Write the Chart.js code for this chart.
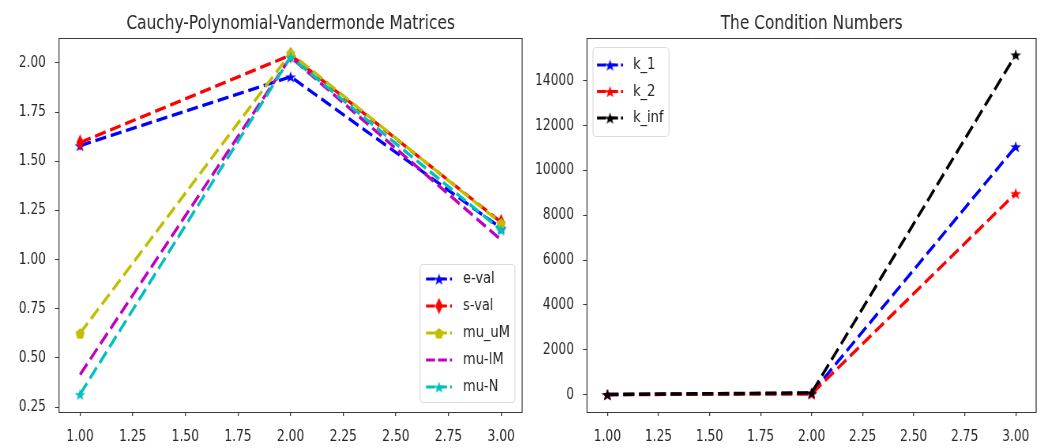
<!DOCTYPE html>
<html lang="en">
<head>
  <meta charset="UTF-8">
  <title>Cauchy-Polynomial-Vandermonde Matrices</title>
  <script src="https://cdn.jsdelivr.net/npm/chart.js"></script>
  <style>
    body { margin: 0; background: #fff; overflow: hidden; }
    /* the figure is squeezed sideways, so draw wide and scale it in */
    .box { position: absolute; top: 0; height: 448px; transform: scaleX(0.79); transform-origin: 0 0; }
    #left { left: 0; width: 671px; }
    #right { left: 525px; width: 657px; }
  </style>
</head>
<body>
<div class="box" id="left"><canvas id="matChart"></canvas></div>
<div class="box" id="right"><canvas id="condChart"></canvas></div>

<script>
  const SX = 0.79;

  // data
  const xValues = [1, 2, 3];
  const xTicks = [1, 1.25, 1.5, 1.75, 2, 2.25, 2.5, 2.75, 3];

  const eVal = [1.58, 1.93, 1.16];
  const sVal = [1.595, 2.04, 1.19];
  const muUM = [0.625, 2.05, 1.185];
  const muLM = [0.415, 2.03, 1.10];
  const muN = [0.315, 2.03, 1.15];
  const leftTicks = [0.25, 0.5, 0.75, 1.0, 1.25, 1.5, 1.75, 2.0];

  const k1 = [5, 60, 11065];
  const k2 = [3, 30, 8980];
  const kInf = [8, 80, 15160];
  const rightTicks = [0, 2000, 4000, 6000, 8000, 10000, 12000, 14000];

  const FONT = "'DejaVu Sans', sans-serif";
  const INK = '#262626';
  const px = v => v / SX;   // page width -> canvas width

  function markerImg(shape, color, w, h) {
    const c = document.createElement('canvas');
    c.width = Math.ceil(w); c.height = Math.ceil(h);
    const g = c.getContext('2d');
    g.fillStyle = color;
    const cx = c.width / 2, cy = c.height / 2;
    const rx = w / 2 - 0.3, ry = h / 2 - 0.3;
    g.beginPath();
    if (shape === 'star') {
      for (let i = 0; i < 10; i++) {
        const k = i % 2 ? 0.4 : 1;
        const a = -Math.PI / 2 + i * Math.PI / 5;
        g.lineTo(cx + k * rx * Math.cos(a), cy + 0.8 + k * ry * Math.sin(a));
      }
    } else if (shape === 'thin_diamond') {
      g.moveTo(cx, cy - ry); g.lineTo(cx + rx, cy); g.lineTo(cx, cy + ry); g.lineTo(cx - rx, cy);
    } else if (shape === 'pentagon') {
      for (let i = 0; i < 5; i++) {
        const a = -Math.PI / 2 + i * 2 * Math.PI / 5;
        g.lineTo(cx + rx * Math.cos(a), cy + 0.8 + ry * Math.sin(a));
      }
    }
    g.closePath();
    g.fill();
    return c;
  }

  function series(label, values, color, img, idx) {
    return {
      label: label,
      data: xValues.map((x, i) => ({ x: x, y: values[i] })),
      showLine: true,
      borderColor: color,
      backgroundColor: color,
      borderWidth: 3.4,
      borderDash: [14, 6],
      pointStyle: img || false,
      pointRadius: img ? 6 : 0,
      order: -idx
    };
  }

  // full box around the plot area
  const frame = {
    id: 'frame',
    afterDatasetsDraw(chart) {
      const a = chart.chartArea, g = chart.ctx;
      g.save();
      g.strokeStyle = '#3a3a3a';
      g.lineWidth = 1;
      g.beginPath();
      g.moveTo(a.left, Math.round(a.top) + 0.5); g.lineTo(a.right, Math.round(a.top) + 0.5);
      g.moveTo(a.left, Math.round(a.bottom) + 0.5); g.lineTo(a.right, Math.round(a.bottom) + 0.5);
      g.stroke();
      g.lineWidth = 1 / SX;
      g.beginPath();
      g.moveTo(a.left, a.top); g.lineTo(a.left, a.bottom + 1);
      g.moveTo(a.right, a.top); g.lineTo(a.right, a.bottom + 1);
      g.stroke();
      g.restore();
    }
  };

  // matplotlib-style legend drawn inside the axes
  const boxLegend = {
    id: 'boxLegend',
    afterDraw(chart, args, o) {
      const g = chart.ctx;
      g.save();
      g.beginPath();
      g.roundRect(o.x, o.y + 0.5, o.w, o.h, 4);
      g.fillStyle = 'rgba(255,255,255,0.8)';
      g.fill();
      g.strokeStyle = '#dcdcdc';
      g.lineWidth = 1.2;
      g.stroke();
      chart.data.datasets.forEach((d, i) => {
        const y = o.y0 + i * o.rowH;
        g.strokeStyle = d.borderColor;
        g.lineWidth = 3.2;
        g.setLineDash([px(9), px(3)]);
        g.beginPath();
        g.moveTo(o.lineX, y);
        g.lineTo(o.lineX + o.lineW, y);
        g.stroke();
        g.setLineDash([]);
        if (d.pointStyle) {
          const im = d.pointStyle;
          g.drawImage(im, o.lineX + o.lineW / 2 - im.width / 2, y - im.height / 2);
        }
        g.fillStyle = INK;
        g.font = '16.5px ' + FONT;
        g.textBaseline = 'middle';
        g.fillText(d.label, o.textX, y);
      });
      g.restore();
    }
  };

  function options(title, yMin, yMax, yTickVals, yFmt, yWidth, legend) {
    return {
      responsive: true,
      maintainAspectRatio: false,
      animation: false,
      layout: { padding: { left: 0, right: 10, top: 0, bottom: 0 } },
      plugins: {
        legend: { display: false },
        tooltip: { enabled: false },
        title: {
          display: true,
          text: title,
          fullSize: false,
          color: INK,
          font: { family: FONT, size: 19.5, weight: 'normal' },
          padding: { top: 12, bottom: 2.6 }
        },
        boxLegend: legend
      },
      scales: {
        x: {
          type: 'linear',
          min: 0.9,
          max: 3.1,
          afterBuildTicks: s => { s.ticks = xTicks.map(v => ({ value: v })); },
          afterFit: s => { s.height = 36; },
          grid: { drawOnChartArea: false, tickLength: 4, color: '#3a3a3a', lineWidth: 1 / SX },
          border: { display: false },
          ticks: {
            padding: 12,
            color: INK,
            font: { family: FONT, size: 15.5 },
            maxRotation: 0,
            callback: v => Number(v).toFixed(2)
          }
        },
        y: {
          type: 'linear',
          min: yMin,
          max: yMax,
          afterBuildTicks: s => { s.ticks = yTickVals.map(v => ({ value: v })); },
          afterFit: s => { s.width = yWidth; },
          grid: { drawOnChartArea: false, tickLength: px(4), color: '#3a3a3a' },
          border: { display: false },
          ticks: {
            padding: px(9),
            color: INK,
            font: { family: FONT, size: 15.5 },
            callback: yFmt
          }
        }
      }
    };
  }

  const starB = markerImg('star', '#0000ff', px(12), 13);
  const diamR = markerImg('thin_diamond', '#ff0000', px(8), 17);
  const pentY = markerImg('pentagon', '#bfbf00', px(10), 12);
  const starC = markerImg('star', '#00bfbf', px(12), 13);

  new Chart(document.getElementById('matChart'), {
    type: 'scatter',
    data: {
      datasets: [
        series('e-val', eVal, '#0000ff', starB, 0),
        series('s-val', sVal, '#ff0000', diamR, 1),
        series('mu_uM', muUM, '#bfbf00', pentY, 2),
        series('mu-lM', muLM, '#bf00bf', null, 3),
        series('mu-N', muN, '#00bfbf', starC, 4)
      ]
    },
    options: options('Cauchy-Polynomial-Vandermonde Matrices', 0.2246, 2.127,
      leftTicks, v => Number(v).toFixed(2), px(59),
      { x: px(420), y: 264, w: px(95), h: 138, y0: 279, rowH: 27, lineX: px(426), lineW: px(26), textX: px(463) }),
    plugins: [frame, boxLegend]
  });

  const starB2 = markerImg('star', '#0000ff', px(12), 13);
  const starR2 = markerImg('star', '#ff0000', px(12), 13);
  const starK2 = markerImg('star', '#000000', px(12), 13);

  new Chart(document.getElementById('condChart'), {
    type: 'scatter',
    data: {
      datasets: [
        series('k_1', k1, '#0000ff', starB2, 0),
        series('k_2', k2, '#ff0000', starR2, 1),
        series('k_inf', kInf, '#000000', starK2, 2)
      ]
    },
    options: options('The Condition Numbers', -774, 15906,
      rightTicks, v => String(v), px(62),
      { x: px(68), y: 47, w: px(76), h: 89, y0: 65, rowH: 26.5, lineX: px(72), lineW: px(26), textX: px(108) }),
    plugins: [frame, boxLegend]
  });
</script>
</body>
</html>
